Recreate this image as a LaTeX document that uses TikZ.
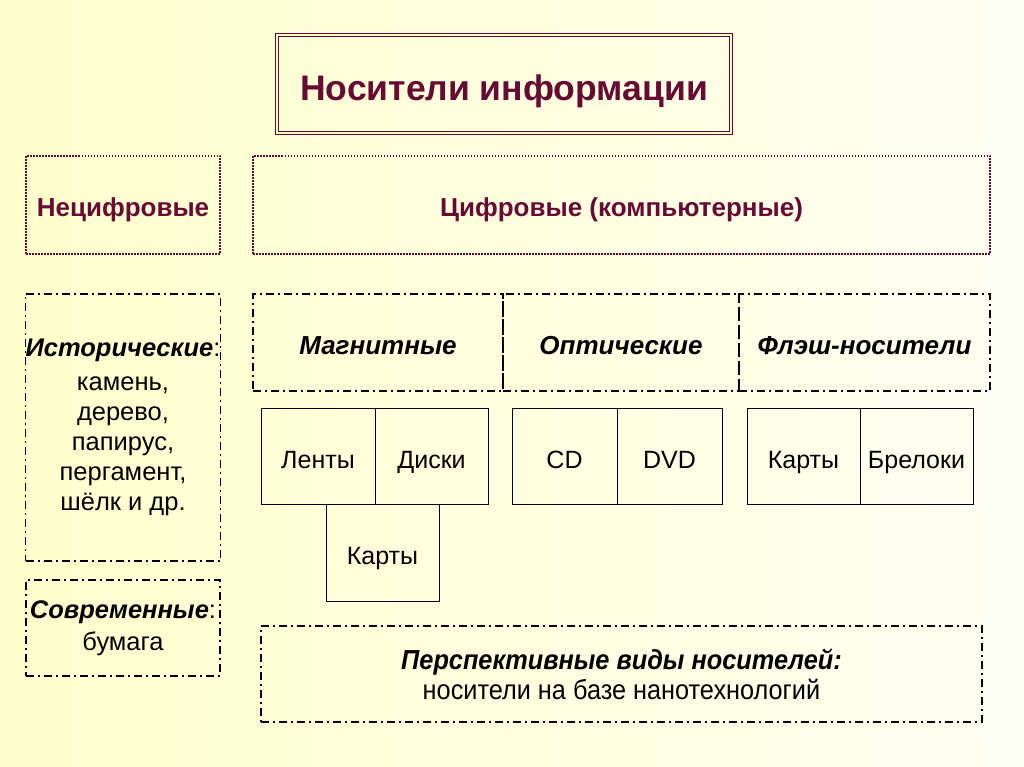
\documentclass[tikz,border=0pt]{standalone}
\usepackage{fontspec}
\setmainfont{Liberation Sans}
\newfontfamily\narrowfont[FakeStretch=0.92]{Liberation Sans}
\definecolor{maroon}{HTML}{660A33}
\definecolor{paperl}{HTML}{FFFFCC}
\definecolor{paperr}{HTML}{FFFFF2}
\tikzset{
  box/.style={draw, line width=1.3pt, inner sep=0pt, align=center, font=\fontsize{25}{30}\selectfont},
  oneline/.style={text height=#1, text depth=0pt},
  dashdot/.style={box, dash pattern=on 8pt off 4pt on 2pt off 4pt},
  dotbox/.style={box, oneline=22.6pt, draw=maroon, line width=1.5pt, dash pattern=on 1.5pt off 1.5pt, text=maroon, font=\fontsize{26}{30}\selectfont\bfseries},
  kindbox/.style={dashdot, oneline=23.6pt, font=\fontsize{26}{30}\selectfont\bfseries\itshape},
  solidbox/.style={box, oneline=24pt, line width=1pt},
}
\begin{document}
\begin{tikzpicture}[x=1pt,y=-1pt]
\shade[left color=paperl, right color=paperr] (0,0) rectangle (1024,767);
\useasboundingbox (0,0) rectangle (1024,767);
\node[box, oneline=33.4pt, draw=maroon, line width=1.2pt, double=paperl, double distance=2.2pt, minimum width=454pt, minimum height=98pt, text=maroon, font=\fontsize{35.5}{40}\selectfont\bfseries] (title) at (504,84) {Носители информации};
\node[dotbox, minimum width=194pt, minimum height=98pt] (nondig) at (123,205) {Нецифровые};
\node[dotbox, minimum width=737pt, minimum height=98pt] (dig) at (621.5,205) {Цифровые (компьютерные)};
\node[dashdot, minimum width=194pt, minimum height=267pt, font=\fontsize{25.5}{30}\selectfont] (hist) at (123,427.5) {{\bfseries\itshape Исторические}:\\[4pt]камень,\\дерево,\\папирус,\\пергамент,\\шёлк и др.};
\node[dashdot, minimum width=194pt, minimum height=96pt, font=\fontsize{25.5}{32}\selectfont] (modern) at (123,628) {{\bfseries\itshape Современные}:\\бумага};
\node[kindbox, minimum width=250pt, minimum height=97pt] (magn) at (378,342.5) {Магнитные};
\node[kindbox, minimum width=236pt, minimum height=97pt] (opt) at (621,342.5) {Оптические};
\node[kindbox, minimum width=251pt, minimum height=97pt] (flash) at (864.5,342.5) {Флэш-носители};
\node[solidbox, minimum width=114pt, minimum height=96pt] (tapes) at (318,456) {Ленты};
\node[solidbox, minimum width=113pt, minimum height=96pt] (disks) at (431.5,456) {Диски};
\node[solidbox, minimum width=113pt, minimum height=97pt] (cards) at (382.5,552.5) {Карты};
\node[solidbox, minimum width=105pt, minimum height=96pt] (cd) at (564.5,456) {CD};
\node[solidbox, minimum width=105pt, minimum height=96pt] (dvd) at (669.5,456) {DVD};
\node[solidbox, minimum width=113pt, minimum height=96pt] (flcards) at (803.5,456) {Карты};
\node[solidbox, minimum width=113pt, minimum height=96pt] (fobs) at (916.5,456) {Брелоки};
\node[dashdot, minimum width=721pt, minimum height=96pt, font=\narrowfont\fontsize{27.5}{30}\selectfont] (future) at (621.5,674) {{\bfseries\itshape Перспективные виды носителей:}\\носители на базе нанотехнологий};
\end{tikzpicture}
\end{document}
